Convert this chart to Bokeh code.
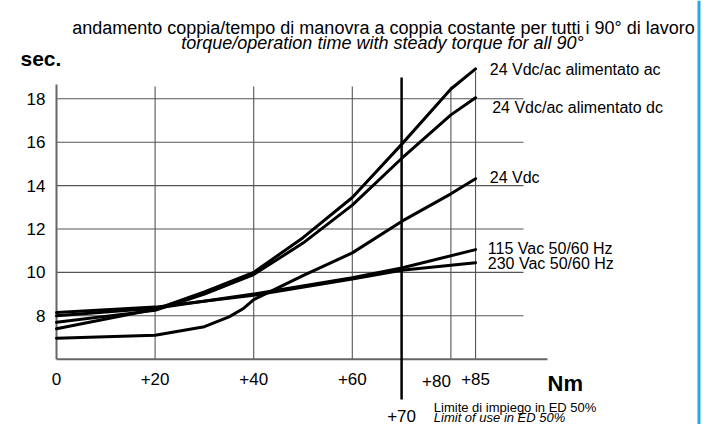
from bokeh.plotting import figure
from bokeh.models import Range1d, FixedTicker, LinearAxis, Span
from bokeh.core.properties import value
from bokeh.embed import file_html
from bokeh.resources import INLINE

# ---------------- data ----------------
title_it = "andamento coppia/tempo di manovra a coppia costante per tutti i 90° di lavoro"
title_en = "torque/operation time with steady torque for all 90°"
x_label = "Nm"
y_label = "sec."

x_ticks = [0, 20, 40, 60]
x_tick_labels = ["0", "+20", "+40", "+60"]
x_tick_80 = 80
x_tick_85 = 85
y_ticks = [8, 10, 12, 14, 16, 18]
y_tick_labels = ["8", "10", "12", "14", "16", "18"]
y_min = 6

limit_nm = 70
limit_label = "+70"
limit_it = "Limite di impiego in ED 50%"
limit_en = "Limit of use in ED 50%"

series_names = ["24 Vdc/ac alimentato ac", "24 Vdc/ac alimentato dc", "24 Vdc",
                "115 Vac 50/60 Hz", "230 Vac 50/60 Hz"]

nm_ac = [0, 20, 30, 40, 50, 60, 70, 80, 85]
sec_ac = [7.4, 8.3, 9.1, 10.0, 11.6, 13.45, 15.9, 18.45, 19.38]

nm_dc = [0, 20, 30, 40, 50, 60, 70, 80, 85]
sec_dc = [7.7, 8.25, 9.0, 9.9, 11.35, 13.1, 15.25, 17.26, 18.05]

nm_24vdc = [0, 20, 30, 35, 38, 40, 50, 60, 70, 80, 85]
sec_24vdc = [6.97, 7.1, 7.5, 7.95, 8.35, 8.75, 9.85, 10.9, 12.35, 13.62, 14.32]

nm_115 = [0, 20, 40, 60, 70, 85]
sec_115 = [8.0, 8.35, 9.0, 9.75, 10.2, 11.05]

nm_230 = [0, 20, 40, 60, 70, 85]
sec_230 = [8.15, 8.4, 8.95, 9.7, 10.1, 10.45]

# ---------------- layout helpers (page pixel -> data) ----------------
W, H = 704, 424
SX = 4.93
PX0 = 56.0
SY = 21.7


def dx(px):
    return (px - PX0) / SX


def dy(py):
    return 8 + (315.3 - py) / SY


FONT = value("Liberation Sans")
GRID = "#555555"

p = figure(width=W, height=H,
           x_range=Range1d(dx(0), dx(W)), y_range=Range1d(dy(H), dy(0)),
           output_backend="svg", toolbar_location=None, tools="", min_border=0)
p.title.visible = False
p.outline_line_color = None
p.xgrid.visible = False
p.ygrid.visible = False
p.background_fill_color = "white"
p.border_fill_color = "white"


def style_axis(ax, standoff):
    ax.axis_line_color = None
    ax.major_tick_line_color = None
    ax.minor_tick_line_color = None
    ax.major_tick_out = 0
    ax.major_tick_in = 0
    ax.minor_tick_out = 0
    ax.minor_tick_in = 0
    ax.major_label_text_font = "Liberation Sans"
    ax.major_label_text_font_size = "17px"
    ax.major_label_text_color = "black"
    ax.major_label_standoff = standoff


# y axis
ya = p.yaxis[0]
ya.fixed_location = 0
ya.ticker = FixedTicker(ticks=y_ticks)
ya.major_label_overrides = {t: l for t, l in zip(y_ticks, y_tick_labels)}
style_axis(ya, 11)

# x axes
xa = p.xaxis[0]
xa.fixed_location = y_min
xa.ticker = FixedTicker(ticks=x_ticks)
xa.major_label_overrides = {t: l for t, l in zip(x_ticks, x_tick_labels)}
style_axis(xa, 14)

# "+80" ends at its tick (a tiny positive angle right-aligns the label)
xa80 = LinearAxis(ticker=FixedTicker(ticks=[x_tick_80]),
                  major_label_overrides={x_tick_80: "+80"})
xa80.fixed_location = y_min
style_axis(xa80, 22)
xa80.major_label_orientation = 0.0001
p.add_layout(xa80, "below")

xa85 = LinearAxis(ticker=FixedTicker(ticks=[x_tick_85]),
                  major_label_overrides={x_tick_85: "+85"})
xa85.fixed_location = y_min
style_axis(xa85, 14)
p.add_layout(xa85, "below")

# grid lines
hx_end = dx(523)
p.segment(x0=[0] * len(y_ticks), x1=[hx_end] * len(y_ticks), y0=y_ticks, y1=y_ticks,
          line_color=GRID, line_width=1.1)
vgrid = x_ticks[1:] + [x_tick_80]
p.segment(x0=vgrid, x1=vgrid, y0=[y_min] * len(vgrid), y1=[dy(86)] * len(vgrid),
          line_color=GRID, line_width=1.1)
p.segment(x0=[x_tick_85], x1=[x_tick_85], y0=[y_min], y1=[dy(71)],
          line_color=GRID, line_width=1.1)

# axis lines
p.segment(x0=[0], x1=[0], y0=[y_min], y1=[dy(84)], line_color="#666666", line_width=2)
p.segment(x0=[0], x1=[dx(547)], y0=[y_min], y1=[y_min], line_color="#666666", line_width=2)

# limit line
p.segment(x0=[limit_nm], x1=[limit_nm], y0=[dy(399)], y1=[dy(77)],
          line_color="black", line_width=2.5)

# curves
for xs, ys in [(nm_ac, sec_ac), (nm_dc, sec_dc), (nm_24vdc, sec_24vdc),
               (nm_115, sec_115), (nm_230, sec_230)]:
    p.line(xs, ys, line_color="black", line_width=3, line_join="round", line_cap="round")

# series labels
p.text(x=[dx(489.3), dx(491.7), dx(489.3), dx(487.3), dx(487.3)],
       y=[dy(69), dy(107.3), dy(176.7), dy(248.3), dy(263.3)],
       text=series_names, text_font=FONT, text_font_size="16px",
       text_align="left", text_baseline="middle", text_color="black")

# titles
p.text(x=[dx(383)], y=[dy(27)], text=[title_it], text_font=FONT, text_font_size="18px",
       text_align="center", text_baseline="alphabetic", text_color="black")
p.text(x=[dx(382)], y=[dy(42)], text=[title_en], text_font=FONT, text_font_size="18px",
       text_font_style="italic", text_align="center", text_baseline="alphabetic",
       text_color="black")

# axis titles
p.text(x=[dx(20)], y=[dy(58)], text=[y_label], text_font=FONT, text_font_size="21px",
       text_font_style="bold", text_align="left", text_baseline="alphabetic")
p.text(x=[dx(547)], y=[dy(382.7)], text=[x_label], text_font=FONT, text_font_size="22px",
       text_font_style="bold", text_align="left", text_baseline="alphabetic")

# limit labels
p.text(x=[limit_nm], y=[dy(415)], text=[limit_label], text_font=FONT, text_font_size="17px",
       text_align="center", text_baseline="alphabetic")
p.text(x=[dx(433.3)], y=[dy(407)], text=[limit_it], text_font=FONT, text_font_size="13px",
       text_align="left", text_baseline="alphabetic")
p.text(x=[dx(433.3)], y=[dy(417)], text=[limit_en], text_font=FONT, text_font_size="13px",
       text_font_style="italic", text_align="left", text_baseline="alphabetic")

# page border line on the right
p.add_layout(Span(location=dx(698.5), dimension="height", line_color="#2aa8e0", line_width=3))

open("out.html", "w").write(file_html(p, INLINE))
